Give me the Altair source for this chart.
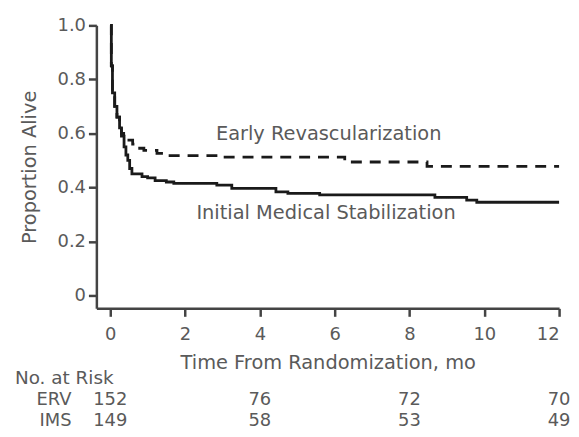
import altair as alt
import pandas as pd

# ---- data ----
erv_t = [0, 0.03, 0.06, 0.12, 0.18, 0.25, 0.30, 0.36, 0.45, 0.60, 0.72, 0.90, 1.25, 1.60, 2.94, 6.27, 8.47, 12]
erv_s = [1.0, 0.85, 0.75, 0.70, 0.66, 0.63, 0.60, 0.585, 0.575, 0.56, 0.545, 0.537, 0.526, 0.518, 0.512, 0.494, 0.478, 0.478]

ims_t = [0, 0.03, 0.06, 0.12, 0.18, 0.25, 0.30, 0.37, 0.42, 0.47, 0.52, 0.58, 0.85, 1.0, 1.2, 1.5, 1.7,
         2.85, 3.25, 4.43, 4.75, 5.6, 8.68, 9.53, 9.8, 12]
ims_s = [1.0, 0.85, 0.75, 0.70, 0.66, 0.62, 0.59, 0.55, 0.52, 0.50, 0.47, 0.45, 0.44, 0.435, 0.425, 0.42, 0.415,
         0.408, 0.396, 0.383, 0.378, 0.372, 0.363, 0.353, 0.345, 0.345]

groups = ["ERV", "IMS"]
risk_months = [0, 4, 8, 12]
risk_erv = [152, 76, 72, 70]
risk_ims = [149, 58, 53, 49]

x_ticks = [0, 2, 4, 6, 8, 10, 12]
y_ticks = [0, 0.2, 0.4, 0.6, 0.8, 1.0]

annotations = ["Early Revascularization", "Initial Medical Stabilization"]
ann_month = [5.84, 5.77]
ann_prop = [0.599, 0.305]

# ---- tables ----
curves_df = pd.concat([
    pd.DataFrame({"group": "ERV", "month": erv_t, "prop": erv_s}),
    pd.DataFrame({"group": "IMS", "month": ims_t, "prop": ims_s}),
])
risk_df = pd.concat([
    pd.DataFrame({"group": "ERV", "month": risk_months, "n": risk_erv}),
    pd.DataFrame({"group": "IMS", "month": risk_months, "n": risk_ims}),
])
ann_df = pd.DataFrame({"label": annotations, "month": ann_month, "prop": ann_prop})
grp_df = pd.DataFrame({"group": groups})
hdr_df = pd.DataFrame({"t": ["No. at Risk"]})

FONT = "DejaVu Sans"
TXT = "#5a5a5a"

x_scale = alt.Scale(domain=[-0.37, 12], nice=False, zero=False)
x_axis = alt.Axis(values=x_ticks, title="Time From Randomization, mo", grid=False,
                  tickSize=8, labelPadding=9, titlePadding=11, labelFontSize=18, titleFontSize=19.5,
                  domainColor="#444444", tickColor="#444444", domainWidth=2.5, tickWidth=2.5,
                  labelColor=TXT, titleColor=TXT, titleFontWeight="normal", labelFont=FONT, titleFont=FONT)
y_scale = alt.Scale(domain=[-0.048, 1.0], nice=False, zero=False)
y_axis = alt.Axis(values=y_ticks, title="Proportion Alive", grid=False,
                  labelExpr="datum.value == 0 ? '0' : format(datum.value, '.1f')",
                  tickSize=8, labelPadding=3, titlePadding=18, labelFontSize=18, titleFontSize=19.5,
                  domainColor="#444444", tickColor="#444444", domainWidth=2.5, tickWidth=2.5,
                  labelColor=TXT, titleColor=TXT, titleFontWeight="normal", labelFont=FONT, titleFont=FONT)

X = alt.X("month:Q", scale=x_scale, axis=x_axis)

curves = alt.Chart(curves_df).mark_line(interpolate="step-after", strokeWidth=2.8, color="#1a1a1a").encode(
    x=X,
    y=alt.Y("prop:Q", scale=y_scale, axis=y_axis),
    strokeDash=alt.StrokeDash("group:N", scale=alt.Scale(domain=groups, range=[[11, 8], [1, 0]]), legend=None),
    detail="group:N",
)

ann = alt.Chart(ann_df).mark_text(font=FONT, fontSize=19.5, color=TXT, align="center", baseline="middle").encode(
    x=X, y=alt.Y("prop:Q", scale=y_scale, axis=y_axis), text="label:N"
)

row_scale = alt.Scale(type="point", domain=groups, range=[377, 398], padding=0)

nums = alt.Chart(risk_df).mark_text(font=FONT, fontSize=18, color=TXT, align="center", baseline="middle").encode(
    x=X, y=alt.Y("group:N", scale=row_scale, axis=None), text="n:Q"
)
grp_labels = alt.Chart(grp_df).mark_text(font=FONT, fontSize=18, color=TXT, align="right", baseline="middle").encode(
    x=alt.value(-25), y=alt.Y("group:N", scale=row_scale, axis=None), text="group:N"
)
header = alt.Chart(hdr_df).mark_text(font=FONT, fontSize=18.5, color=TXT, align="left", baseline="middle").encode(
    x=alt.value(-82), y=alt.value(355), text="t:N"
)

chart = alt.layer(
    alt.layer(curves, ann),
    alt.layer(nums, grp_labels, header),
).resolve_scale(y="independent").properties(
    width=466, height=285,
    autosize=alt.AutoSizeParams(type="none"),
    padding={"left": 89, "top": 16, "right": 12, "bottom": 120},
).configure_view(stroke=None)

chart.save("out.html", embed_options={"renderer": "svg", "actions": False})
